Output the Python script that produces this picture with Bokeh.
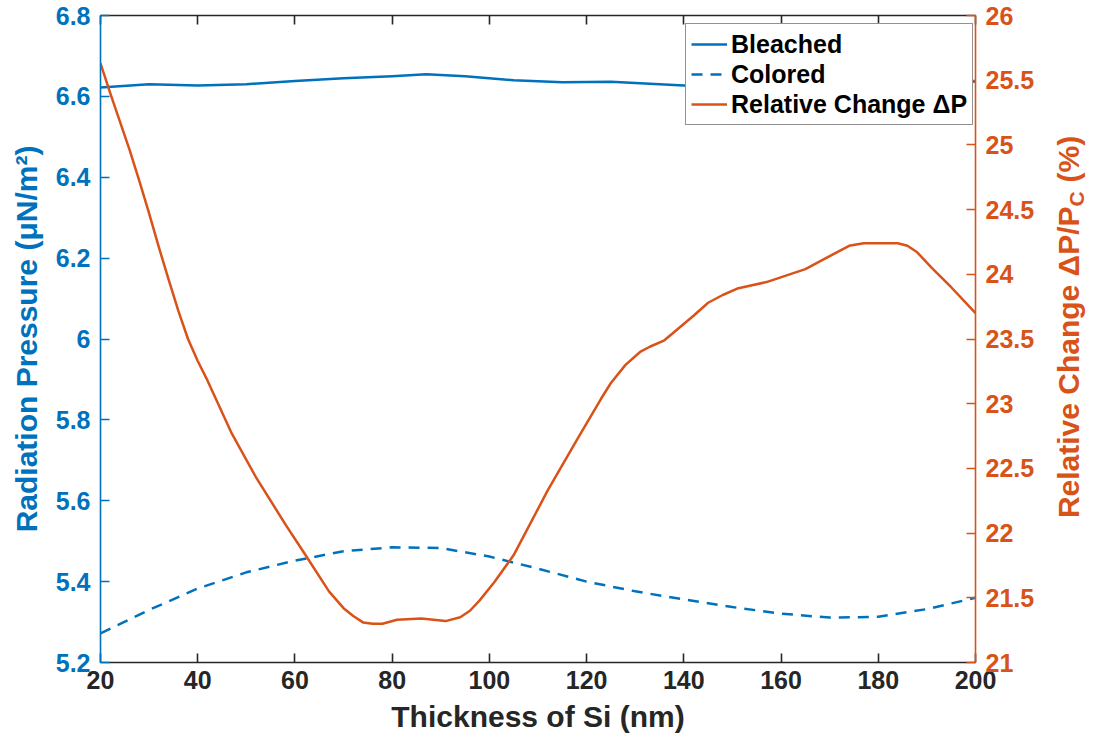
from bokeh.plotting import figure
from bokeh.layouts import row
from bokeh.models import Range1d, LinearAxis, FixedTicker, Legend, LegendItem, Label
from bokeh.embed import file_html
from bokeh.resources import INLINE

# ---- data ----
x_bleached = [20, 30, 40, 50, 60, 70, 80, 87, 95, 105, 115, 125, 135, 145, 155, 165, 175, 185, 200]
bleached = [6.622, 6.630, 6.627, 6.630, 6.638, 6.645, 6.650, 6.655, 6.650, 6.640, 6.635, 6.636,
            6.630, 6.624, 6.622, 6.625, 6.628, 6.632, 6.637]

x_colored = [20, 30, 40, 50, 60, 70, 80, 90, 100, 110, 120, 130, 140, 150, 160, 170, 180, 190, 200]
colored = [5.272, 5.330, 5.383, 5.423, 5.452, 5.475, 5.485, 5.483, 5.462, 5.432, 5.400, 5.376,
           5.356, 5.337, 5.321, 5.311, 5.313, 5.332, 5.360]

x_rel = [20, 22, 24, 26, 28, 30, 32, 34, 36, 38, 40, 42, 47, 52, 58, 62, 67, 70, 72, 74, 76,
         78, 81, 86, 91, 94, 96, 98, 101, 105, 112, 118, 123, 125, 128, 131, 133, 136, 142, 145,
         148, 151, 157, 165, 170, 174, 177, 181, 184, 186, 188, 191, 195, 200]
rel_change = [25.63, 25.40, 25.18, 24.96, 24.72, 24.47, 24.21, 23.96, 23.72, 23.50, 23.33, 23.18,
              22.77, 22.43, 22.07, 21.84, 21.55, 21.42, 21.36, 21.31, 21.30, 21.30, 21.33, 21.34,
              21.32, 21.35, 21.40, 21.48, 21.62, 21.83, 22.33, 22.72, 23.04, 23.16, 23.30, 23.40,
              23.44, 23.49, 23.68, 23.78, 23.84, 23.89, 23.94, 24.04, 24.14, 24.22, 24.24, 24.24,
              24.24, 24.22, 24.17, 24.05, 23.90, 23.70]

x_ticks = [20, 40, 60, 80, 100, 120, 140, 160, 180, 200]
left_ticks = [5.2, 5.4, 5.6, 5.8, 6.0, 6.2, 6.4, 6.6, 6.8]
left_tick_labels = ["5.2", "5.4", "5.6", "5.8", "6", "6.2", "6.4", "6.6", "6.8"]
right_ticks = [21, 21.5, 22, 22.5, 23, 23.5, 24, 24.5, 25, 25.5, 26]
right_tick_labels = ["21", "21.5", "22", "22.5", "23", "23.5", "24", "24.5", "25", "25.5", "26"]

BLUE = "#0072BD"
ORANGE = "#D95319"
DARK = "#262626"
FONT = "Liberation Sans"

p = figure(width=1040, height=742, x_range=Range1d(20, 200), y_range=Range1d(5.2, 6.8),
           output_backend="svg", toolbar_location=None,
           min_border_left=100, min_border_right=65, min_border_top=15, min_border_bottom=80,
           x_axis_location=None, y_axis_location=None)
p.extra_y_ranges = {"right": Range1d(21, 26)}
p.grid.visible = False
p.outline_line_color = None
p.background_fill_color = "white"
p.border_fill_color = "white"


def style_axis(ax, color, size="25px"):
    ax.axis_line_color = color
    ax.axis_line_width = 1.6
    ax.major_tick_line_color = color
    ax.major_tick_line_width = 1.6
    ax.major_tick_in = 9
    ax.major_tick_out = 0
    ax.minor_tick_line_color = None
    ax.major_label_text_color = color
    ax.major_label_text_font = FONT
    ax.major_label_text_font_style = "bold"
    ax.major_label_text_font_size = size
    ax.axis_label_text_color = color
    ax.axis_label_text_font = FONT
    ax.axis_label_text_font_style = "bold"
    ax.axis_label_text_font_size = "30px"


xb = LinearAxis(ticker=FixedTicker(ticks=x_ticks), axis_label="Thickness of Si (nm)")
style_axis(xb, DARK)
xb.major_label_standoff = 8
xb.axis_label_standoff = 8
p.add_layout(xb, "below")

xt = LinearAxis(ticker=FixedTicker(ticks=x_ticks))
style_axis(xt, DARK, size="0px")
xt.major_label_standoff = 0
xt.major_label_text_alpha = 0
p.add_layout(xt, "above")

yl = LinearAxis(ticker=FixedTicker(ticks=left_ticks), axis_label="Radiation Pressure (μN/m²)")
style_axis(yl, BLUE)
yl.major_label_overrides = {t: s for t, s in zip(left_ticks, left_tick_labels)}
yl.major_label_standoff = 10
yl.axis_label_standoff = 10
p.add_layout(yl, "left")

yr = LinearAxis(y_range_name="right", ticker=FixedTicker(ticks=right_ticks))
style_axis(yr, ORANGE)
yr.major_label_overrides = {t: s for t, s in zip(right_ticks, right_tick_labels)}
yr.major_label_standoff = 10
p.add_layout(yr, "right")

r1 = p.line(x_bleached, bleached, line_color=BLUE, line_width=2.5, line_join="round")
r2 = p.line(x_colored, colored, line_color=BLUE, line_width=2.5, line_dash="11 8",
            line_join="round")
r3 = p.line(x_rel, rel_change, line_color=ORANGE, line_width=2.5, y_range_name="right",
            line_join="round")

legend = Legend(items=[LegendItem(label="Bleached", renderers=[r1]),
                       LegendItem(label="Colored", renderers=[r2]),
                       LegendItem(label="Relative Change ΔP", renderers=[r3])],
                location=(585, 537))
legend.label_text_font = FONT
legend.label_text_font_style = "bold"
legend.label_text_font_size = "25px"
legend.label_text_color = "black"
legend.border_line_color = DARK
legend.border_line_width = 1.6
legend.background_fill_color = "white"
legend.background_fill_alpha = 1
legend.glyph_width = 36
legend.label_standoff = 4
legend.spacing = 0
legend.padding = 5
legend.margin = 0
legend.label_height = 30
legend.glyph_height = 30
p.add_layout(legend, "center")

# right-hand axis title (reads bottom-to-top, with subscript) drawn in a narrow side panel
q = figure(width=59, height=742, x_range=Range1d(0, 59), y_range=Range1d(0, 742),
           output_backend="svg", toolbar_location=None,
           min_border=0, x_axis_location=None, y_axis_location=None)
q.grid.visible = False
q.outline_line_color = None
q.background_fill_color = "white"
q.border_fill_color = "white"

lab_x = 28
lab_y = 523
common = dict(x=lab_x, y=lab_y, angle=90, angle_units="deg", text_font=FONT,
              text_font_style="bold", text_color=ORANGE, text_baseline="middle")
q.add_layout(Label(text="Relative Change ΔP/P", text_align="right", text_font_size="30px", **common))
q.add_layout(Label(text="C", text_align="left", text_font_size="21px", x_offset=8, **common))
q.add_layout(Label(text="(%)", text_align="left", text_font_size="30px", y_offset=24, **common))

layout = row(p, q, spacing=0)
open("out.html", "w").write(file_html(layout, INLINE))
